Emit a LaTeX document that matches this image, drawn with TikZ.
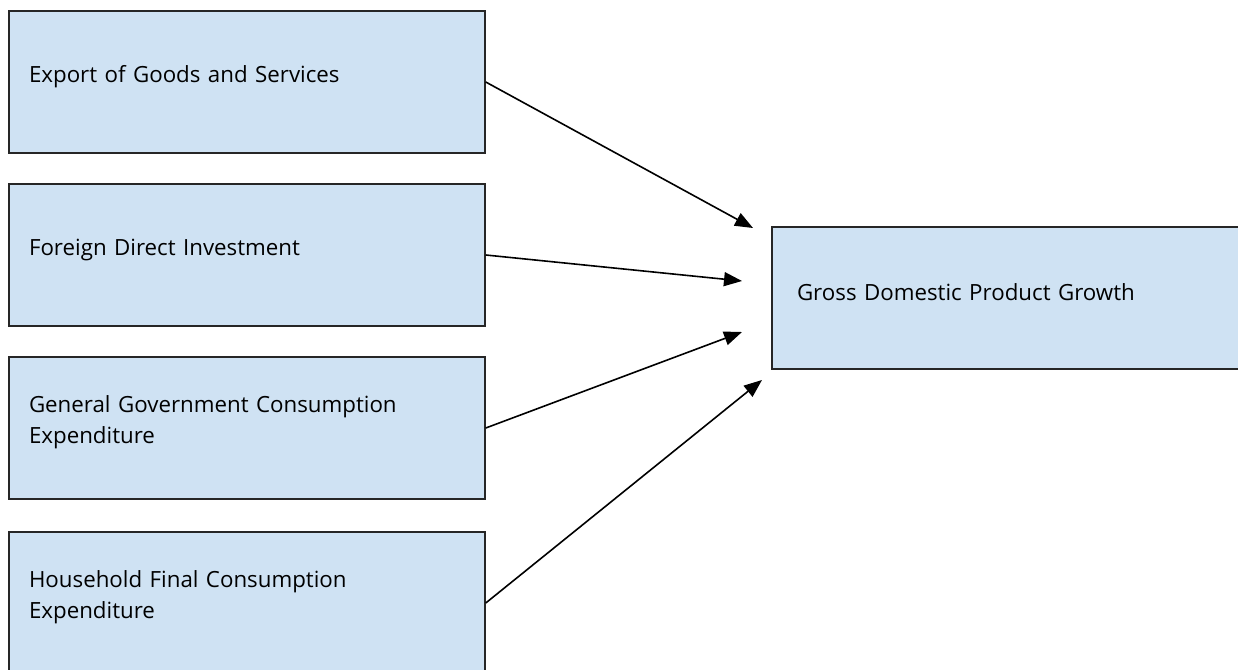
\documentclass[tikz,border=0pt]{standalone}
\usepackage{fontspec}
\setmainfont{Open Sans}
\usetikzlibrary{arrows.meta}
\definecolor{hopxanh}{HTML}{CFE2F3}
\newcommand{\dondaycuoi}{\par\vspace{11pt}}

\begin{document}
\begin{tikzpicture}[
  x=1pt,
  y=-1pt,
  hop/.style={draw=black!85, line width=1.5pt, fill=hopxanh, text width=436pt,
    inner xsep=20pt, minimum height=142pt, align=left,
    font=\fontsize{22.3}{31}\selectfont, execute at end node=\dondaycuoi},
  mui/.style={line width=1.6pt, -{Triangle[length=18pt,width=14pt]}}
]
  \useasboundingbox (0,0) rectangle (1238,669);
  % các hộp
  \node[hop] (xk) at (247,82) {Export of Goods and Services};
  \node[hop] (fdi) at (247,255) {Foreign Direct Investment};
  \node[hop] (cp) at (247,428) {General Government Consumption\\Expenditure};
  \node[hop] (hgd) at (247,603) {Household Final Consumption\\Expenditure};
  \node[hop, inner xsep=25pt, text width=426pt] (gdp) at (1010,298) {Gross Domestic Product Growth};
  % mũi tên
  \coordinate (t1) at (753,228);
  \coordinate (t2) at (742,281);
  \coordinate (t3) at (742,332);
  \coordinate (t4) at (762,380);
  \draw[mui] (xk.east) -- (t1);
  \draw[mui] (fdi.east) -- (t2);
  \draw[mui] (cp.east) -- (t3);
  \draw[mui] (hgd.east) -- (t4);
\end{tikzpicture}
\end{document}
